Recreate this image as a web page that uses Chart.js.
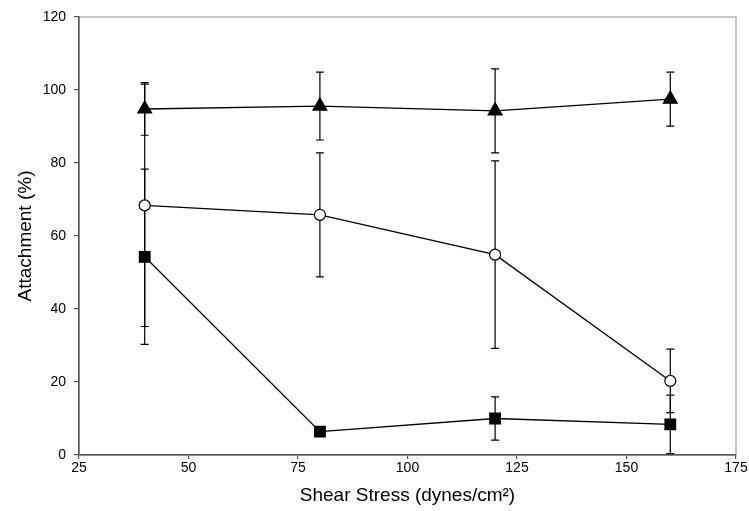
<!DOCTYPE html>
<html>
<head>
<meta charset="utf-8">
<script src="https://cdn.jsdelivr.net/npm/chart.js@4"></script>
<style>
  html, body { margin: 0; padding: 0; background: #fff; }
  #wrap { width: 749px; height: 511px; }
</style>
</head>
<body>
<div id="wrap"><canvas id="chart"></canvas></div>
<script>
const shearStress = [40, 80, 120, 160];

const triangleMean = [94.8, 95.6, 94.3, 97.5];
const triangleErr = [7.2, 9.3, 11.5, 7.4];

const circleMean = [68.4, 65.8, 54.9, 20.3];
const circleErr = [33.2, 17.0, 25.7, 8.7];

const squareMean = [54.3, 6.4, 10.0, 8.4];
const squareErr = [24.0, 1.0, 5.9, 8.0];

const xTicks = [25, 50, 75, 100, 125, 150, 175];
const yTicks = [0, 20, 40, 60, 80, 100, 120];

function points(ys) {
  return shearStress.map((x, i) => ({ x: x, y: ys[i] }));
}

// error bars, drawn under the markers
const errorBars = {
  id: 'errorBars',
  beforeDatasetsDraw(chart) {
    const ctx = chart.ctx;
    const xs = chart.scales.x, ys = chart.scales.y;
    ctx.save();
    ctx.strokeStyle = '#000';
    ctx.lineWidth = 1.2;
    chart.data.datasets.forEach(ds => {
      ds.data.forEach((p, i) => {
        const e = ds.errors[i];
        const px = xs.getPixelForValue(p.x);
        const top = ys.getPixelForValue(p.y + e);
        const bot = ys.getPixelForValue(p.y - e);
        ctx.beginPath();
        ctx.moveTo(px, top); ctx.lineTo(px, bot);
        ctx.moveTo(px - 4, top); ctx.lineTo(px + 4, top);
        ctx.moveTo(px - 4, bot); ctx.lineTo(px + 4, bot);
        ctx.stroke();
      });
    });
    ctx.restore();
  }
};

// gray box around plot
const frame = {
  id: 'frame',
  beforeDraw(chart) {
    const a = chart.chartArea, ctx = chart.ctx;
    ctx.save();
    ctx.strokeStyle = '#b4b4b4';
    ctx.lineWidth = 1.5;
    ctx.strokeRect(a.left, a.top, a.right - a.left, a.bottom - a.top);
    ctx.restore();
  }
};

const baseDs = {
  showLine: true,
  borderColor: '#000',
  borderWidth: 1.3,
  pointBorderColor: '#000',
  pointBorderWidth: 1.2
};

const config = {
  type: 'scatter',
  data: {
    datasets: [
      Object.assign({}, baseDs, {
        label: 'triangle',
        data: points(triangleMean),
        errors: triangleErr,
        pointStyle: 'triangle',
        pointRadius: 8,
        pointBackgroundColor: '#000'
      }),
      Object.assign({}, baseDs, {
        label: 'circle',
        data: points(circleMean),
        errors: circleErr,
        pointStyle: 'circle',
        pointRadius: 5.5,
        pointBackgroundColor: '#fff'
      }),
      Object.assign({}, baseDs, {
        label: 'square',
        data: points(squareMean),
        errors: squareErr,
        pointStyle: 'rect',
        pointRadius: 7.5,
        pointBackgroundColor: '#000'
      })
    ]
  },
  options: {
    responsive: true,
    maintainAspectRatio: false,
    animation: false,
    layout: { padding: { top: 17, right: 13, left: 10, bottom: 0 } },
    plugins: {
      legend: { display: false },
      tooltip: { enabled: false }
    },
    scales: {
      x: {
        type: 'linear',
        min: 25,
        max: 175,
        afterBuildTicks: s => { s.ticks = xTicks.map(v => ({ value: v })); },
        afterFit: s => { s.height = 56; },
        grid: { drawOnChartArea: false, tickLength: 4, tickColor: '#555', lineWidth: 1.2 },
        border: { color: '#555', width: 1.5 },
        ticks: { color: '#000', font: { family: 'Liberation Sans', size: 14 }, padding: 1, maxRotation: 0 },
        title: {
          display: true,
          text: 'Shear Stress (dynes/cm\u00b2)',
          color: '#000',
          font: { family: 'Liberation Sans', size: 19 },
          padding: { top: 2 }
        }
      },
      y: {
        min: 0,
        max: 120,
        afterBuildTicks: s => { s.ticks = yTicks.map(v => ({ value: v })); },
        afterFit: s => { s.width = 69; },
        grid: { drawOnChartArea: false, tickLength: 5, tickColor: '#555', lineWidth: 1.2 },
        border: { color: '#555', width: 1.5 },
        ticks: { color: '#000', font: { family: 'Liberation Sans', size: 14 }, padding: 8 },
        title: {
          display: true,
          text: 'Attachment (%)',
          color: '#000',
          font: { family: 'Liberation Sans', size: 19 },
          padding: { bottom: 4 }
        }
      }
    }
  },
  plugins: [frame, errorBars]
};

const attachmentChart = new Chart(document.getElementById('chart'), config);
</script>
</body>
</html>
